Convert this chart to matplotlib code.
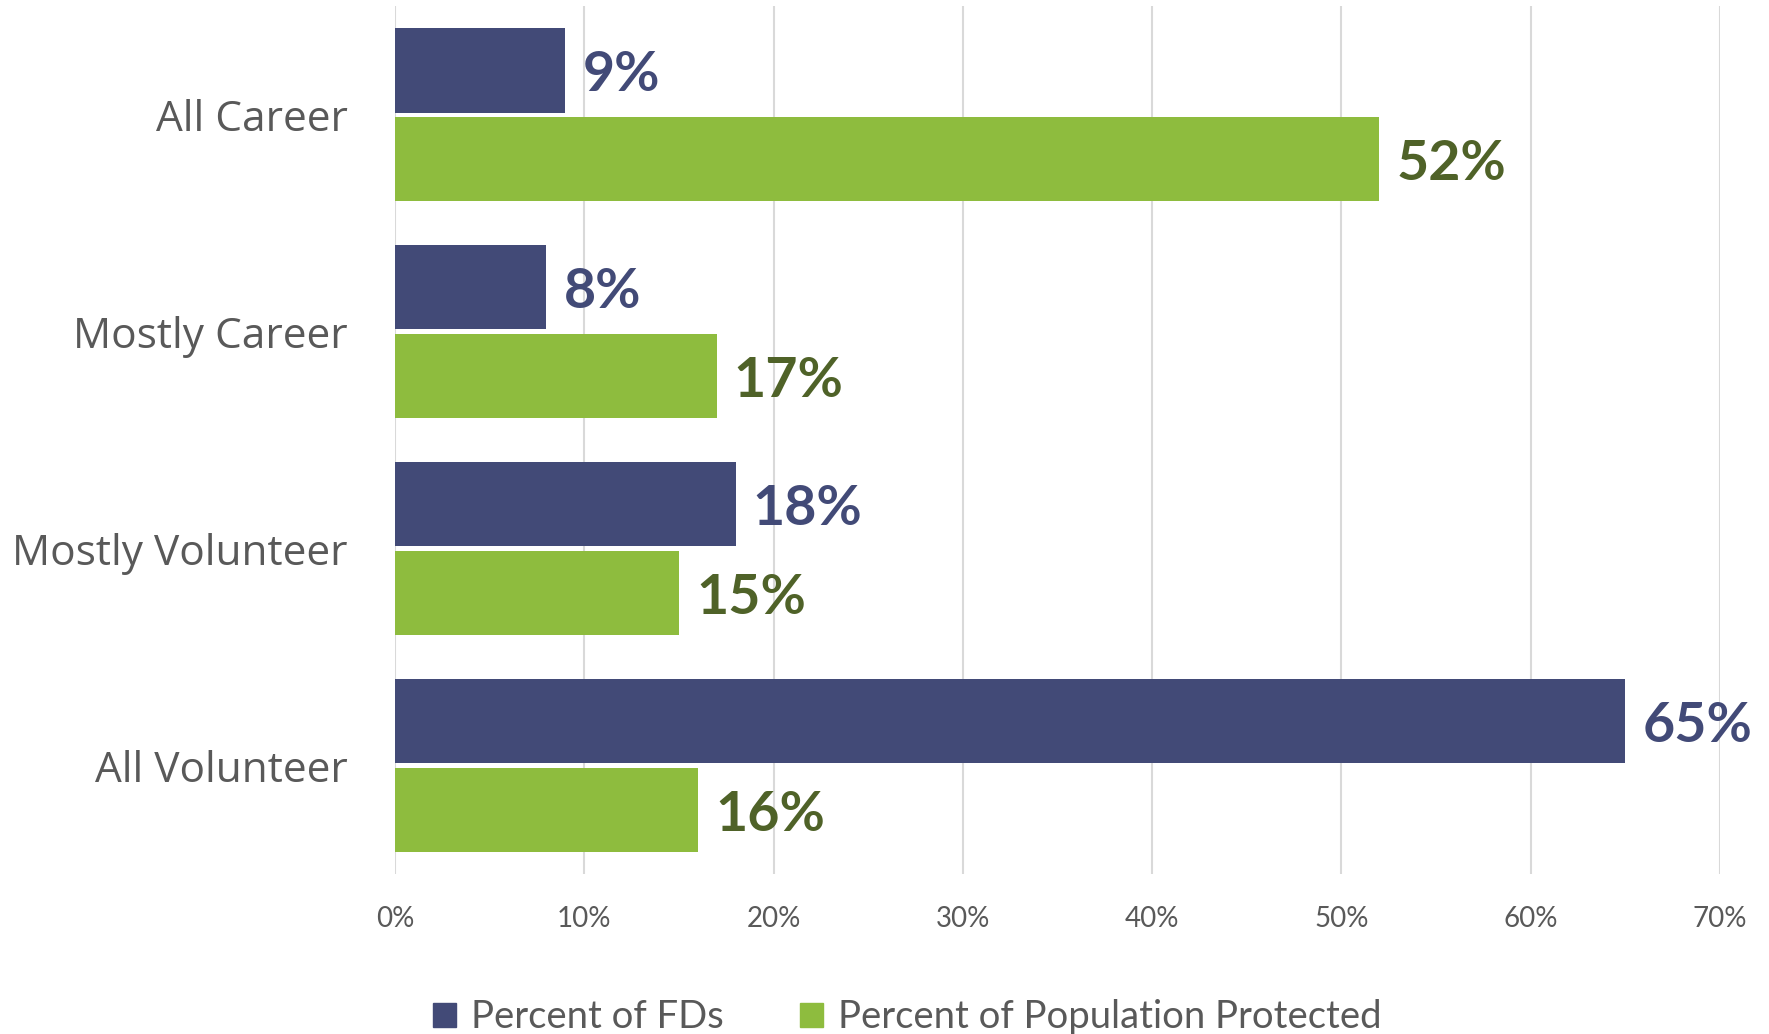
import matplotlib
matplotlib.use("Agg")
import matplotlib.pyplot as plt
import numpy as np
from matplotlib.patches import Patch

categories = ["All Career", "Mostly Career", "Mostly Volunteer", "All Volunteer"]
pct_fds = [9, 8, 18, 65]
pct_pop = [52, 17, 15, 16]
series_names = ["Percent of FDs", "Percent of Population Protected"]
xticks = [0, 10, 20, 30, 40, 50, 60, 70]

c_fd = "#424A77"
c_pop = "#8EBC3E"
c_fd_lbl = "#424A77"
c_pop_lbl = "#4F6228"
gray = "#595959"

fig = plt.figure(figsize=(17.69, 10.34), dpi=100)
ax = fig.add_axes([0.2233, 0.1547, 0.9723 - 0.2233, 0.994 - 0.1547])

y = np.arange(len(categories))
h = 0.39
gap = 0.02
ax.barh(y - (h + gap) / 2, pct_fds, height=h, color=c_fd, zorder=3)
ax.barh(y + (h + gap) / 2, pct_pop, height=h, color=c_pop, zorder=3)

for yi, v in zip(y, pct_fds):
    ax.text(v + 0.9, yi - (h + gap) / 2, f"{v}%", va="center_baseline", ha="left",
            fontsize=40, fontweight="bold", color=c_fd_lbl, family="Lato", zorder=4)
for yi, v in zip(y, pct_pop):
    ax.text(v + 0.9, yi + (h + gap) / 2, f"{v}%", va="center_baseline", ha="left",
            fontsize=40, fontweight="bold", color=c_pop_lbl, family="Lato", zorder=4)

ax.set_ylim(len(categories) - 0.5, -0.5)
ax.set_xlim(0, 70)
ax.set_xticks(xticks)
ax.set_xticklabels([f"{t}%" for t in xticks], fontsize=20, color=gray, family="Lato")
ax.set_yticks(y)
ax.set_yticklabels(categories, fontsize=30.5, color=gray, family="Open Sans")
ax.tick_params(axis="y", length=0, pad=34)
ax.tick_params(axis="x", length=0, pad=23)
ax.xaxis.grid(True, color="#D9D9D9", linewidth=1.5, zorder=0)
ax.set_axisbelow(True)
for s in ax.spines.values():
    s.set_visible(False)

handles = [Patch(color=c_fd), Patch(color=c_pop)]
fig.legend(handles, series_names, loc="center", bbox_to_anchor=(0.513, 0.016),
           ncol=2, frameon=False, prop={"family": "Lato", "size": 27.5},
           labelcolor=gray, handlelength=0.6, handleheight=0.6,
           handletextpad=0.4, columnspacing=2.0)

fig.savefig("out.png", dpi=100)
